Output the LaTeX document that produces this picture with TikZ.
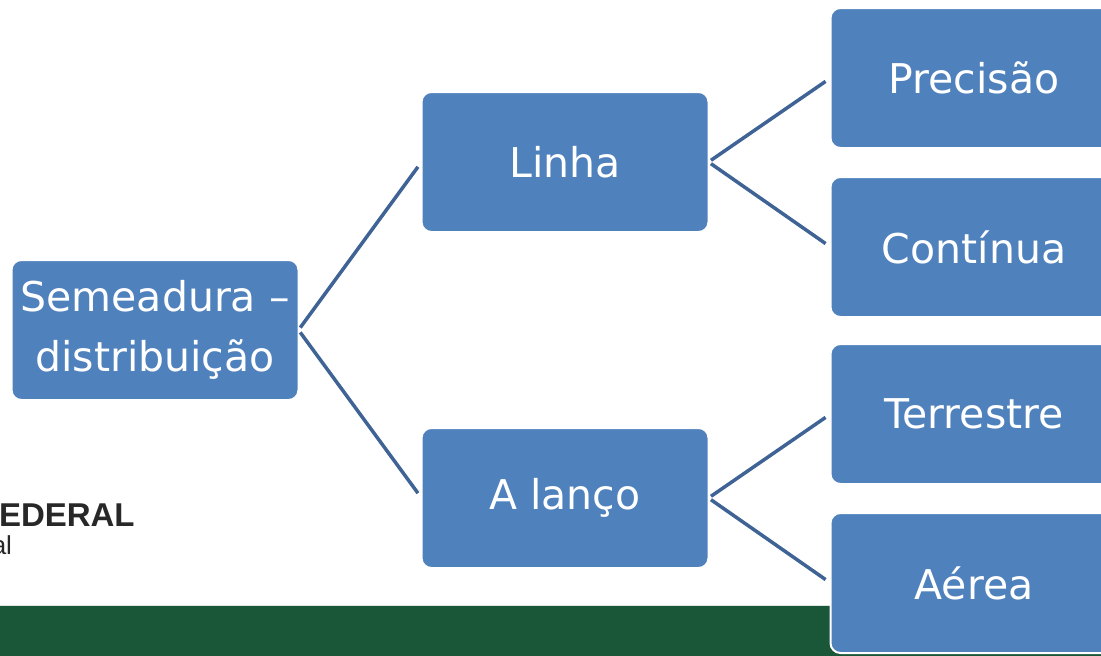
\documentclass[tikz,border=0pt]{standalone}
\usepackage{fontspec}
\setmainfont{DejaVu Sans}
\newfontfamily\logofont{Liberation Sans}
\usetikzlibrary{positioning}
\definecolor{boxblue}{RGB}{79,129,189}
\definecolor{linkblue}{RGB}{62,99,148}
\definecolor{bargreen}{RGB}{26,86,56}
\definecolor{logogray}{RGB}{40,40,40}

\begin{document}
\begin{tikzpicture}[x=1pt,y=-1pt,every node/.style={outer sep=0pt},
		box/.style={draw=white,line width=2pt,fill=boxblue,rounded corners=10pt,
		minimum width=287pt,minimum height=140pt,inner sep=0pt,text=white,
		font=\fontsize{41}{60}\selectfont,align=center},
		link/.style={draw=linkblue,line width=3.5pt,shorten <=3pt,shorten >=6pt},
		]
		\useasboundingbox (0,0) rectangle (1101,656);
		\clip (0,0) rectangle (1101,656);
		% faixa verde
		\fill[bargreen] (0,605) rectangle (1101,656);
		\draw[white!85!bargreen,line width=1pt] (0,605) -- (1101,605);
		\node[anchor=west,text=logogray,font=\logofont\bfseries\fontsize{33}{36}\selectfont,inner sep=0pt] (logo) at (-1,515) {EDERAL};
		\node[anchor=east,text=logogray,font=\logofont\fontsize{26}{30}\selectfont,inner sep=0pt] (logosub) at (12,545) {al};

		\node[box] (root) at (155,330) {Semeadura –\\distribuição};
               \node[box,right=123pt of root,yshift=168pt] (linha) {Linha};
               \node[box,right=123pt of root,yshift=-168pt] (lanco) {A lanço};

               \node[box,right=122pt of linha,yshift=84pt] (prec) {Precisão};
               \node[box,right=122pt of linha,yshift=-85pt] (cont) {Contínua};
               \node[box,right=122pt of lanco,yshift=84pt] (terr) {Terrestre};
               \node[box,right=122pt of lanco,yshift=-85pt] (aerea) {Aérea};

              \draw[link] (root.east) -- (linha.west);
              \draw[link] (root.east) -- (lanco.west);
              \draw[link] (linha.east) -- (prec.west);
              \draw[link] (linha.east) -- (cont.west);
              \draw[link] (lanco.east) -- (terr.west);
              \draw[link] (lanco.east) -- (aerea.west);
        \end{tikzpicture}
\end{document}
